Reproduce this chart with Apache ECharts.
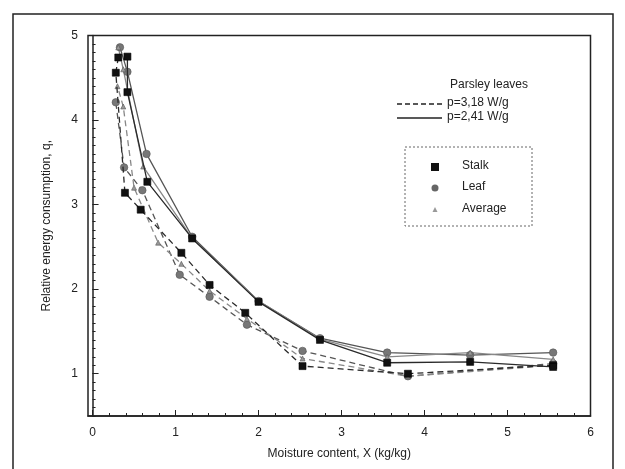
<!DOCTYPE html>
<html><head><meta charset="utf-8">
<script src="https://cdn.jsdelivr.net/npm/echarts@6/dist/echarts.min.js"></script>
<style>html,body{margin:0;padding:0;background:#fff}#c{width:625px;height:469px}</style>
</head><body><div id="c"></div>
<script>
// Moisture content X (kg/kg), relative energy consumption q
// p = 2,41 W/g (solid lines)
const solidStalk = [[5.55,1.08],[4.55,1.14],[3.55,1.13],[2.74,1.40],[2.0,1.85],[1.2,2.60],[0.66,3.27],[0.42,4.33],[0.42,4.75]];
const solidLeaf  = [[5.55,1.25],[4.55,1.22],[3.55,1.25],[2.74,1.42],[2.0,1.86],[1.2,2.62],[0.65,3.60],[0.42,4.57],[0.33,4.86]];
const solidAvg   = [[5.55,1.17],[4.55,1.25],[3.55,1.20],[2.74,1.41],[2.0,1.86],[1.2,2.60],[0.61,3.45],[0.37,4.60],[0.31,4.86]];
// p = 3,18 W/g (dashed lines)
const dashStalk = [[5.55,1.10],[3.8,1.00],[2.53,1.09],[1.84,1.72],[1.41,2.05],[1.07,2.43],[0.58,2.94],[0.39,3.14],[0.28,4.56],[0.31,4.74]];
const dashLeaf  = [[5.55,1.12],[3.8,0.97],[2.53,1.27],[1.86,1.58],[1.41,1.91],[1.05,2.17],[0.6,3.17],[0.38,3.44],[0.28,4.21]];
const dashAvg   = [[5.55,1.10],[3.8,0.97],[2.53,1.18],[1.86,1.65],[1.41,1.98],[1.07,2.30],[0.79,2.55],[0.5,3.20],[0.37,4.16],[0.30,4.40]];
const xTickLabels = [0,1,2,3,4,5,6];
const yTickLabels = [1,2,3,4,5];

const xMinor = [], yMinor = [];
for (let i = 0; i <= 30; i++) xMinor.push(+(i*0.2).toFixed(2));
for (let i = 5; i <= 50; i++) yMinor.push(+(i*0.1).toFixed(2));

const chart = echarts.init(document.getElementById('c'), null, {renderer:'canvas'});
const font = 'Liberation Sans, Arial, sans-serif';
const txt = '#222';
const mk = (name, data, kind, dashed) => {
  const sym = kind==='stalk' ? 'rect' : kind==='leaf' ? 'circle' : 'triangle';
  const size = kind==='stalk' ? 7 : kind==='leaf' ? 7.5 : 5;
  const col = kind==='stalk' ? '#111' : kind==='leaf' ? '#777' : '#999';
  const lc = kind==='stalk' ? '#2a2a2a' : kind==='leaf' ? '#555' : '#888';
  return {name, type:'line', data, symbol:sym, symbolSize:size, showSymbol:true, z: kind==='stalk'?4:3,
    itemStyle:{color:col, borderColor: kind==='stalk'?'#000':'#555', borderWidth:0.6},
    lineStyle:{color:lc, width:1.3, type: dashed ? [6,4] : 'solid'}, animation:false};
};
const axisCommon = {axisLine:{show:true, lineStyle:{color:'#222', width:1.5}}, splitLine:{show:false}};
chart.setOption({
  animation:false,
  grid:{left:88, right:34.5, top:35.5, bottom:53, show:true, borderColor:'#222', borderWidth:1.5, backgroundColor:'transparent'},
  xAxis:[
    Object.assign({type:'value', min:-0.055, max:6, position:'bottom',
      name:'Moisture content, X (kg/kg)', nameLocation:'middle', nameGap:32,
      nameTextStyle:{fontFamily:font, fontSize:12, color:txt},
      axisLabel:{customValues:xTickLabels, fontFamily:font, fontSize:12, color:txt, margin:11, formatter:v=>String(Math.round(v))},
      axisTick:{customValues:xTickLabels, inside:true, length:6, lineStyle:{color:'#222'}}}, axisCommon),
    {type:'value', min:-0.055, max:6, position:'bottom', gridIndex:0,
      axisLine:{show:false}, splitLine:{show:false}, axisLabel:{show:false},
      axisTick:{customValues:xMinor, inside:true, length:3, lineStyle:{color:'#222'}}}
  ],
  yAxis:[
    Object.assign({type:'value', min:0.5, max:5, position:'left',
      name:'Relative energy consumption, q,', nameLocation:'middle', nameGap:35,
      nameTextStyle:{fontFamily:font, fontSize:12, color:txt},
      axisLabel:{customValues:yTickLabels, fontFamily:font, fontSize:12, color:txt, margin:10},
      axisTick:{customValues:yTickLabels, inside:true, length:6, lineStyle:{color:'#222'}}}, axisCommon),
    {type:'value', min:0.5, max:5, position:'left', gridIndex:0,
      axisLine:{show:false}, splitLine:{show:false}, axisLabel:{show:false},
      axisTick:{customValues:yMinor, inside:true, length:3, lineStyle:{color:'#222'}}}
  ],
  series:[
    mk('Stalk 3,18', dashStalk, 'stalk', true),
    mk('Leaf 3,18', dashLeaf, 'leaf', true),
    mk('Average 3,18', dashAvg, 'avg', true),
    mk('Stalk 2,41', solidStalk, 'stalk', false),
    mk('Leaf 2,41', solidLeaf, 'leaf', false),
    mk('Average 2,41', solidAvg, 'avg', false)
  ],
  graphic:[
    {type:'rect', shape:{x:13, y:14, width:600, height:470}, style:{fill:'none', stroke:'#222', lineWidth:1.5}, silent:true},
    {type:'text', right:97, top:79, style:{text:'Parsley leaves', font:'12px '+font, fill:txt}},
    {type:'line', shape:{x1:397, y1:104, x2:442, y2:104}, style:{stroke:'#222', lineWidth:1.3, lineDash:[5,3]}},
    {type:'text', left:447, top:97, style:{text:'p=3,18 W/g', font:'12px '+font, fill:txt}},
    {type:'line', shape:{x1:397, y1:118, x2:442, y2:118}, style:{stroke:'#222', lineWidth:1.3}},
    {type:'text', left:447, top:111, style:{text:'p=2,41 W/g', font:'12px '+font, fill:txt}},
    {type:'rect', shape:{x:405, y:147, width:127, height:79}, style:{fill:'none', stroke:'#666', lineWidth:1, lineDash:[2,2]}},
    {type:'rect', shape:{x:431, y:163, width:8, height:8}, style:{fill:'#111'}},
    {type:'circle', shape:{cx:435, cy:188, r:3.5}, style:{fill:'#666'}},
    {type:'polygon', shape:{points:[[435,207],[432.5,212],[437.5,212]]}, style:{fill:'#999'}},
    {type:'text', left:462, top:160, style:{text:'Stalk', font:'12px '+font, fill:txt}},
    {type:'text', left:462, top:181, style:{text:'Leaf', font:'12px '+font, fill:txt}},
    {type:'text', left:462, top:203, style:{text:'Average', font:'12px '+font, fill:txt}}
  ]
});
</script></body></html>
